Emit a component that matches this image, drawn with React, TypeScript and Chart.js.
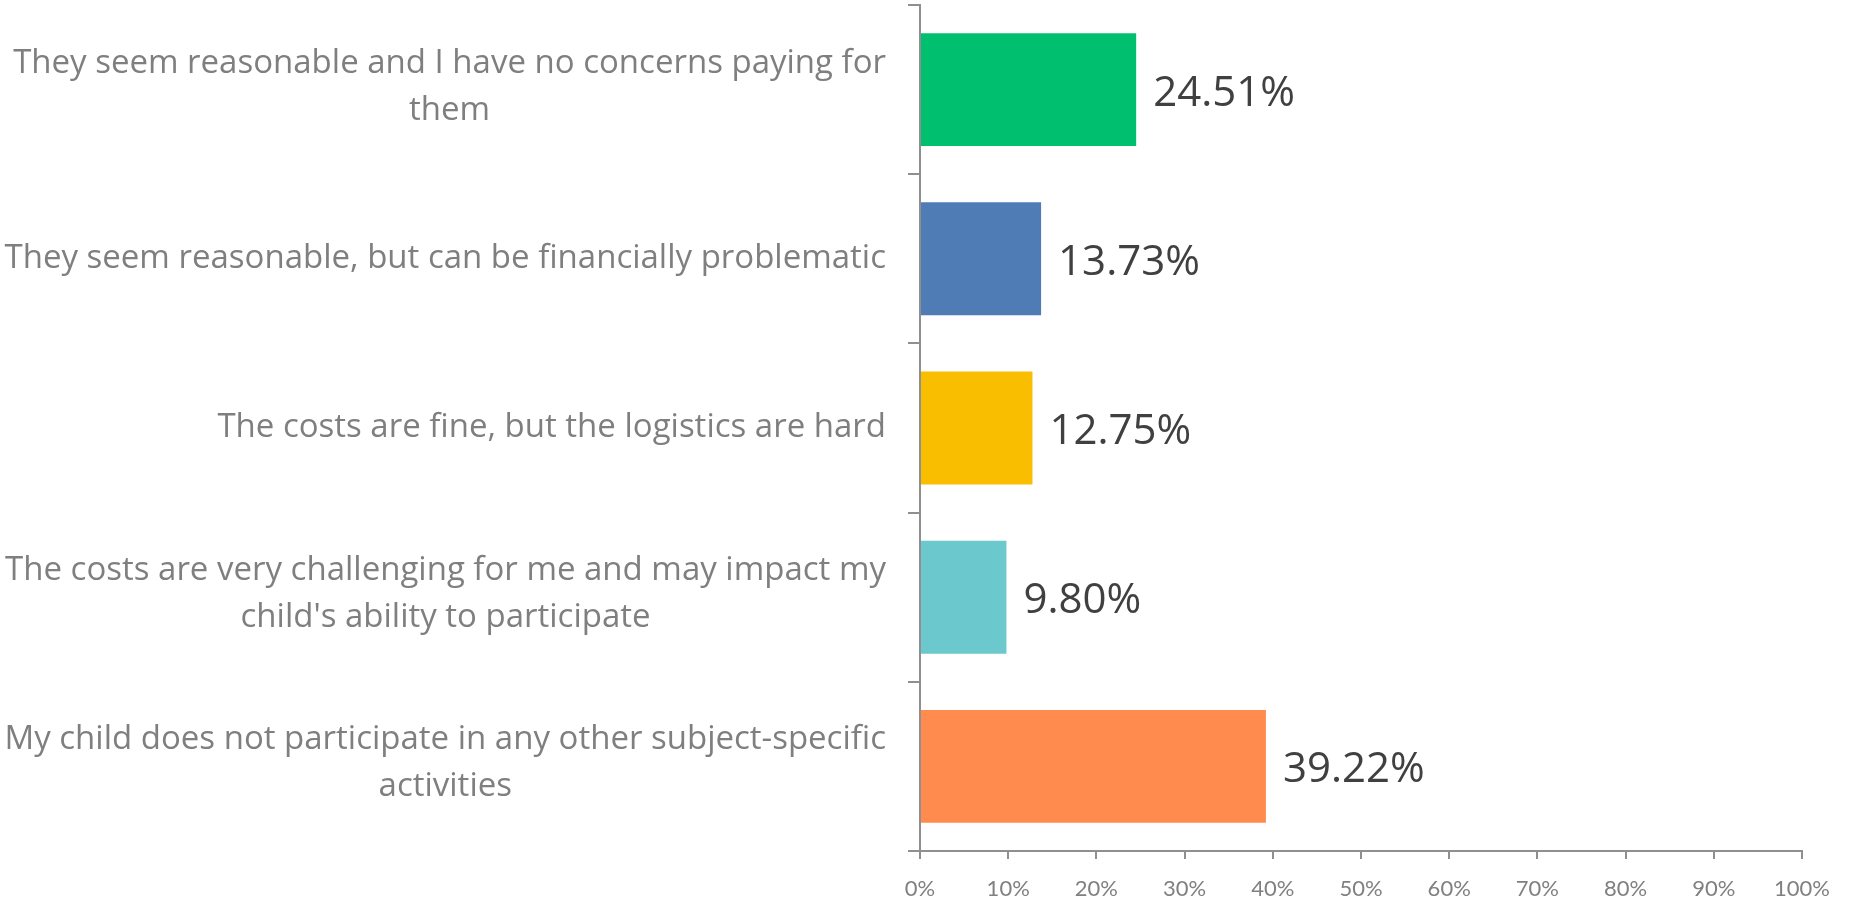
import React, { useEffect, useRef } from "react";
import { Chart, registerables } from "chart.js";

Chart.register(...registerables);

const categoryLines: string[][] = [
  ["They seem reasonable and I have no concerns paying for", "them"],
  ["They seem reasonable, but can be financially problematic"],
  ["The costs are fine, but the logistics are hard"],
  ["The costs are very challenging for me and may impact my", "child's ability to participate"],
  ["My child does not participate in any other subject-specific", "activities"],
];
const values: number[] = [24.51, 13.73, 12.75, 9.8, 39.22];
const barColors: string[] = ["#00BF6F", "#507CB6", "#F9BE00", "#6BC8CD", "#FF8B4F"];
const xMin = 0;
const xMax = 100;
const xStep = 10;

const FONT = "'Open Sans', Lato, sans-serif";
const TICK_FONT = "Lato, 'Open Sans', sans-serif";
const AXIS_COLOR = "#8f8f8f";

const labelPlugin = {
  id: "customLabels",
  afterDraw(chart: any) {
    const ctx = chart.ctx;
    const yScale = chart.scales.y;
    ctx.save();
    // category labels: block right-aligned, lines centered within block
    ctx.font = `33px ${FONT}`;
    ctx.fillStyle = "#7f7f7f";
    ctx.textBaseline = "middle";
    ctx.textAlign = "center";
    const lineH = 47;
    categoryLines.forEach((lines, i) => {
      const cy = yScale.getPixelForValue(i);
      const widths = lines.map((l) => ctx.measureText(l).width);
      const bw = Math.max(...widths);
      const right = yScale.right - 34;
      const cx = right - bw / 2;
      lines.forEach((l, j) => {
        ctx.fillText(l, cx, cy + (j - (lines.length - 1) / 2) * lineH - (lines.length > 1 ? 3 : 0));
      });
    });
    // data labels
    ctx.font = `42px ${FONT}`;
    ctx.fillStyle = "#404040";
    ctx.textAlign = "left";
    const meta = chart.getDatasetMeta(0);
    meta.data.forEach((bar: any, i: number) => {
      ctx.fillText(values[i].toFixed(2) + "%", bar.x + 17, bar.y + 4);
    });
    ctx.restore();
  },
};

export default function App() {
  const ref = useRef<HTMLCanvasElement | null>(null);
  useEffect(() => {
    if (!ref.current) return;
    const chart = new Chart(ref.current, {
      type: "bar",
      data: {
        labels: categoryLines.map((l) => l.join(" ")),
        datasets: [
          {
            data: values,
            backgroundColor: barColors,
            borderWidth: 0,
            barPercentage: 0.667,
            categoryPercentage: 1,
          },
        ],
      },
      options: {
        indexAxis: "y",
        animation: false,
        responsive: false,
        maintainAspectRatio: false,
        layout: { padding: { top: 5, right: 47, left: 0, bottom: 0 } },
        plugins: { legend: { display: false }, tooltip: { enabled: false } },
        scales: {
          y: {
            type: "category",
            grid: {
              display: true,
              drawOnChartArea: false,
              drawTicks: true,
              tickLength: 12,
              color: AXIS_COLOR,
              lineWidth: 2,
              offset: true,
            },
            border: { display: true, color: AXIS_COLOR, width: 2 },
            ticks: { display: false },
            afterFit: (scale: any) => {
              scale.width = 920;
            },
          },
          x: {
            type: "linear",
            min: xMin,
            max: xMax,
            grid: {
              display: true,
              drawOnChartArea: false,
              drawTicks: true,
              tickLength: 8,
              color: AXIS_COLOR,
              lineWidth: 2,
            },
            border: { display: true, color: AXIS_COLOR, width: 2 },
            ticks: {
              stepSize: xStep,
              color: "#808080",
              padding: 17,
              font: { family: TICK_FONT, size: 22 },
              callback: (v: any) => v + "%",
              maxRotation: 0,
            },
            afterFit: (scale: any) => {
              scale.height = 47;
            },
          },
        },
      },
      plugins: [labelPlugin],
    });
    return () => chart.destroy();
  }, []);
  return (
    <div style={{ position: "absolute", left: 0, top: 0, width: 1849, height: 898, background: "#fff" }}>
      <canvas ref={ref} width={1849} height={898} style={{ display: "block" }} />
    </div>
  );
}
